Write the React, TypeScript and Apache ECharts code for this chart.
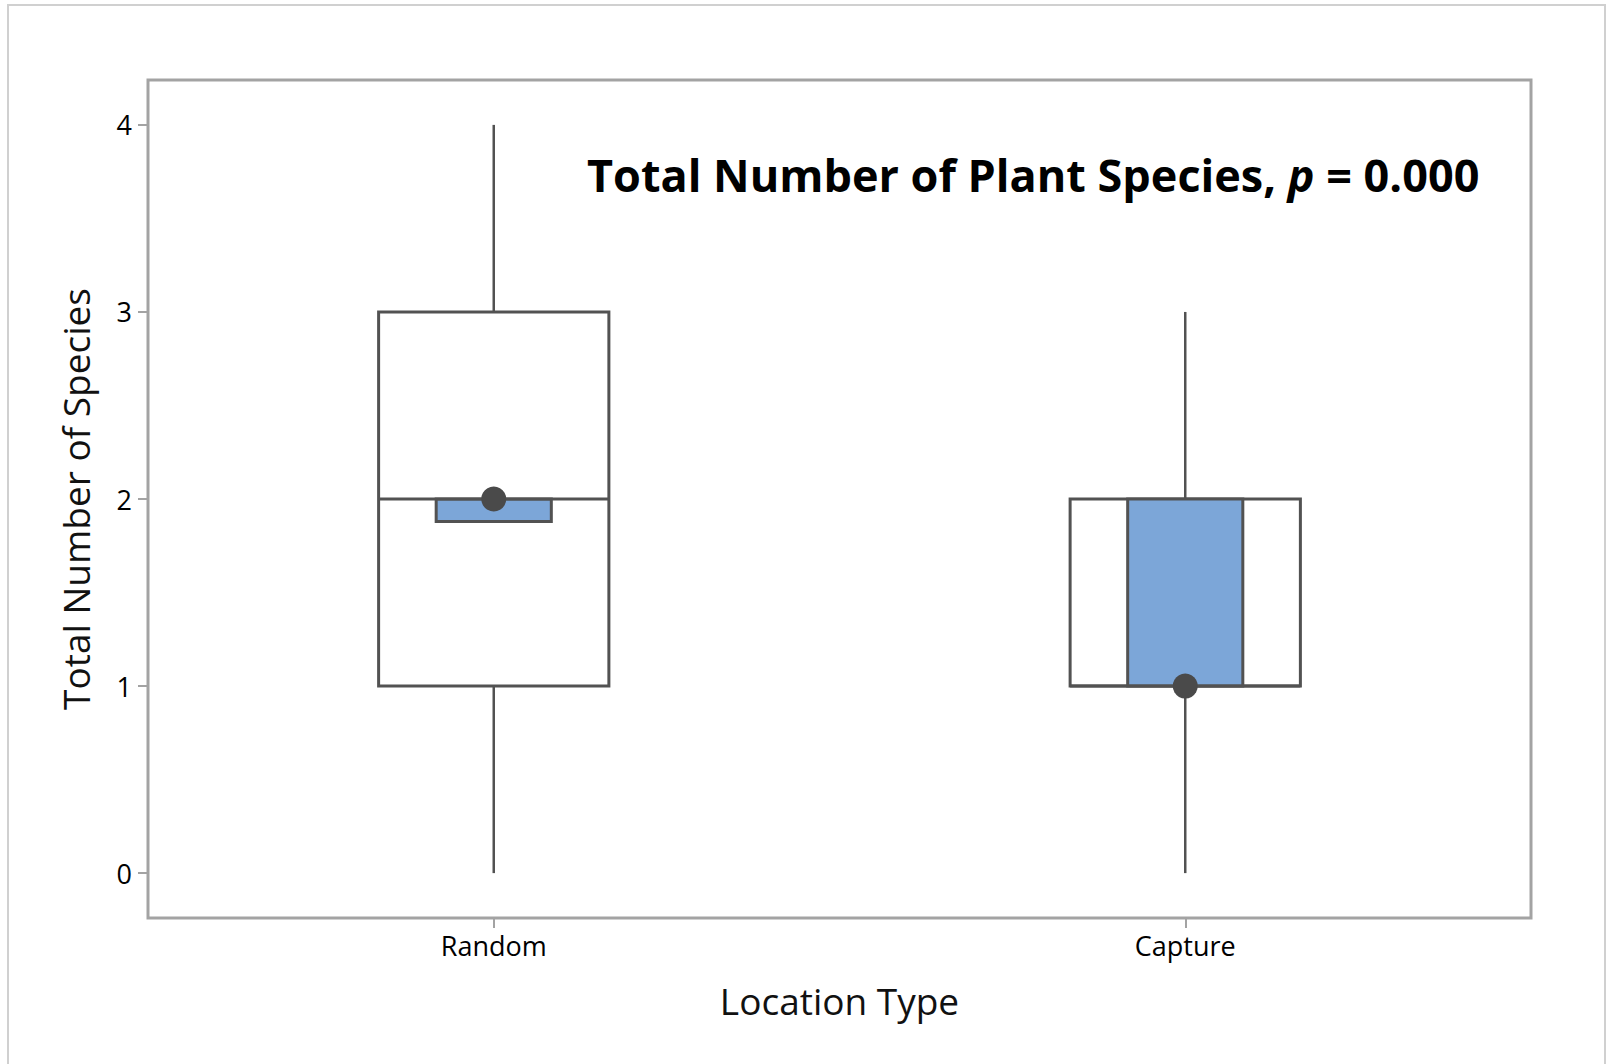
import React, { useEffect, useRef } from "react";
import * as echarts from "echarts";

const categories = ["Random", "Capture"];
const whiskerLow = [0, 0];
const q1 = [1, 1];
const median = [2, 1];
const q3 = [3, 2];
const whiskerHigh = [4, 3];
const medianCiLow = [1.88, 1];
const medianCiHigh = [2, 2];
const means = [2, 1];
const yTicks = [0, 1, 2, 3, 4];

const STROKE = "#525252";
const FRAME = "#a3a3a3";
const FONT = "'Open Sans', 'Noto Sans', sans-serif";

export default function App() {
  const ref = useRef<HTMLDivElement>(null);

  useEffect(() => {
    if (!ref.current) return;
    const chart = echarts.init(ref.current, undefined, { renderer: "svg" });

    const boxData = categories.map((_, i) => [
      i,
      whiskerLow[i],
      q1[i],
      median[i],
      q3[i],
      whiskerHigh[i],
      medianCiLow[i],
      medianCiHigh[i],
    ]);

    const option: any = {
      animation: false,
      backgroundColor: "#ffffff",
      title: {
        text: "Total Number of Plant Species, {i|p} = 0.000",
        left: 582,
        top: 141,
        textStyle: {
          fontFamily: FONT,
          fontSize: 45,
          fontWeight: "bold",
          color: "#000000",
          lineHeight: 56,
          rich: {
            i: {
              fontFamily: FONT,
              fontSize: 45,
              fontWeight: "bold",
              fontStyle: "italic",
              color: "#000000",
              lineHeight: 56,
            },
          },
        },
      },
      graphic: [
        {
          type: "rect",
          silent: true,
          shape: { x: 8, y: 5, width: 1597, height: 1075 },
          style: { fill: "none", stroke: "#d0d0d0", lineWidth: 2 },
        },
      ],
      grid: {
        left: 148,
        right: 77,
        top: 80,
        bottom: 146,
        show: true,
        borderColor: FRAME,
        borderWidth: 3,
        backgroundColor: "transparent",
      },
      xAxis: {
        type: "category",
        data: categories,
        boundaryGap: true,
        name: "Location Type",
        nameLocation: "middle",
        nameGap: 64,
        nameTextStyle: { fontFamily: FONT, fontSize: 37, color: "#111111" },
        axisLine: { show: false, onZero: false },
        axisTick: {
          show: true,
          alignWithLabel: true,
          length: 10,
          lineStyle: { color: FRAME, width: 2 },
        },
        axisLabel: {
          fontFamily: FONT,
          fontSize: 27,
          color: "#000000",
          margin: 14,
        },
        splitLine: { show: false },
      },
      yAxis: {
        type: "value",
        min: -0.24,
        max: 4.24,
        name: "Total Number of Species",
        nameLocation: "middle",
        nameGap: 54,
        nameRotate: 90,
        nameTextStyle: { fontFamily: FONT, fontSize: 37, color: "#111111" },
        axisLine: { show: false, onZero: false },
        axisTick: {
          show: true,
          length: 10,
          customValues: yTicks,
          lineStyle: { color: FRAME, width: 2 },
        },
        axisLabel: {
          fontFamily: FONT,
          fontSize: 27,
          color: "#000000",
          margin: 16,
          customValues: yTicks,
        },
        splitLine: { show: false },
      },
      series: [
        {
          type: "custom",
          data: boxData,
          encode: { x: 0, y: [1, 2, 3, 4, 5, 6, 7] },
          renderItem: (params: any, api: any) => {
            const x = api.value(0);
            const band = api.size([1, 0])[0];
            const boxW = band * 0.333;
            const ciW = band * 0.1665;
            const pt = (v: number) => api.coord([x, v]);
            const cx = pt(api.value(1))[0];
            const yMin = pt(api.value(1))[1];
            const yQ1 = pt(api.value(2))[1];
            const yMed = pt(api.value(3))[1];
            const yQ3 = pt(api.value(4))[1];
            const yMax = pt(api.value(5))[1];
            const yCiLo = pt(api.value(6))[1];
            const yCiHi = pt(api.value(7))[1];
            return {
              type: "group",
              children: [
                {
                  type: "line",
                  shape: { x1: cx, y1: yQ3, x2: cx, y2: yMax },
                  style: { stroke: STROKE, lineWidth: 2.5 },
                },
                {
                  type: "line",
                  shape: { x1: cx, y1: yQ1, x2: cx, y2: yMin },
                  style: { stroke: STROKE, lineWidth: 2.5 },
                },
                {
                  type: "rect",
                  shape: { x: cx - boxW / 2, y: yQ3, width: boxW, height: yQ1 - yQ3 },
                  style: { fill: "#ffffff", stroke: STROKE, lineWidth: 3 },
                },
                {
                  type: "rect",
                  shape: { x: cx - ciW / 2, y: yCiHi, width: ciW, height: yCiLo - yCiHi },
                  style: { fill: "#7ca6d8", stroke: STROKE, lineWidth: 3 },
                },
                {
                  type: "line",
                  shape: { x1: cx - boxW / 2, y1: yMed, x2: cx + boxW / 2, y2: yMed },
                  style: { stroke: STROKE, lineWidth: 3 },
                },
              ],
            };
          },
          z: 2,
        },
        {
          type: "scatter",
          data: means,
          symbol: "circle",
          symbolSize: 25,
          itemStyle: { color: "#4a4a4a", opacity: 1 },
          z: 5,
        },
      ],
    };

    chart.setOption(option);
    return () => chart.dispose();
  }, []);

  return (
    <div
      ref={ref}
      style={{ position: "absolute", left: 0, top: 0, width: 1608, height: 1064 }}
    />
  );
}
